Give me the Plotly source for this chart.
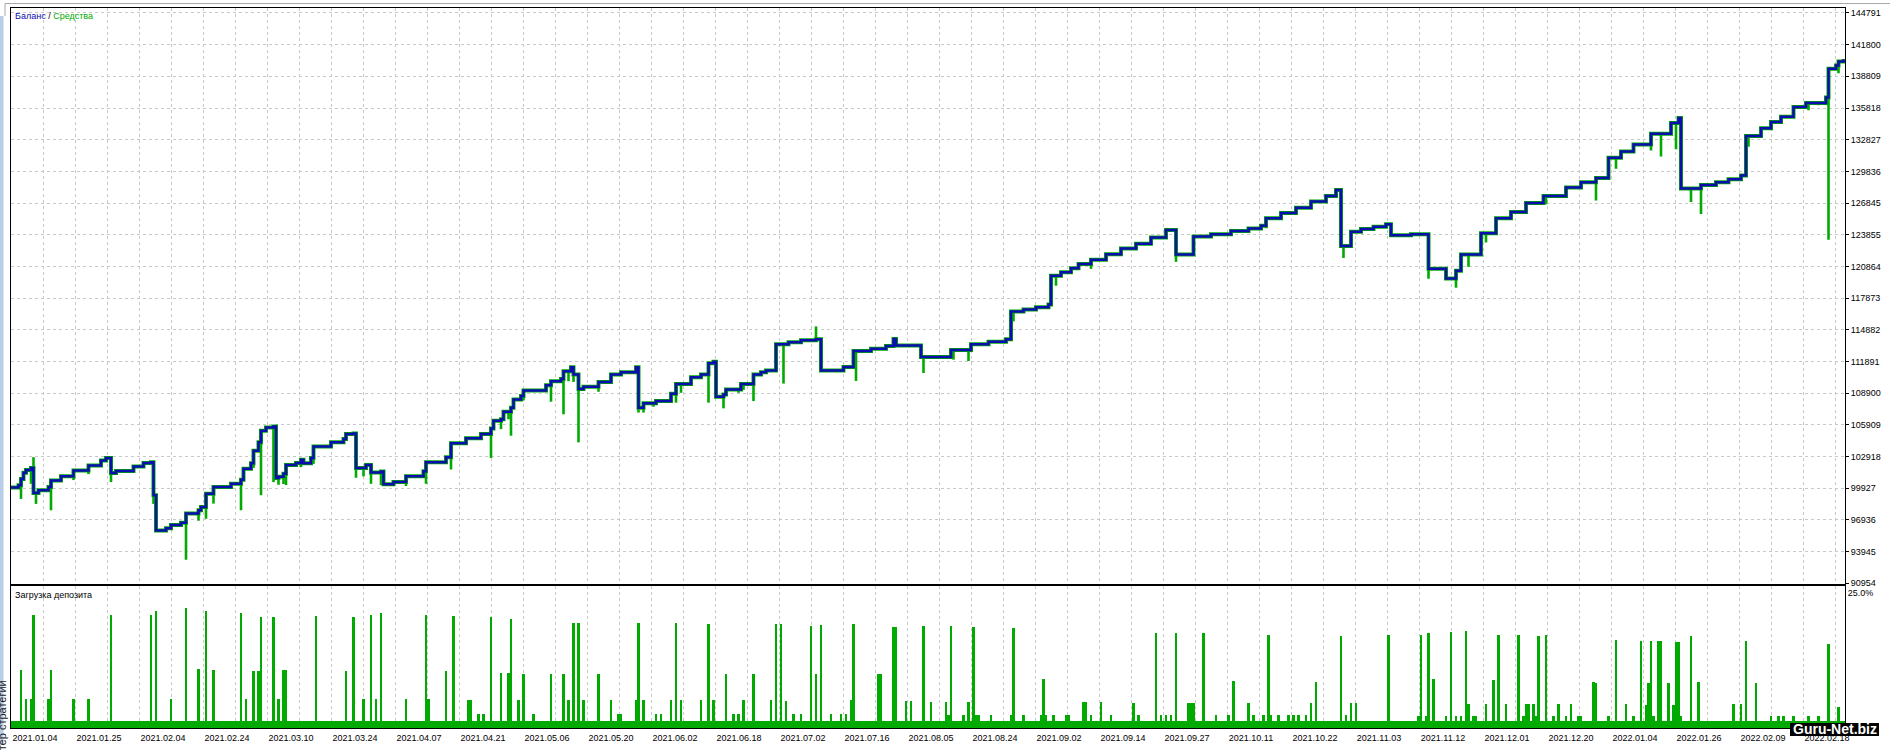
import plotly.graph_objects as go

# ---------------- data ----------------
N_TRADES = 734

# balance after trade number (step points)
bal_t = [0, 3, 4, 5, 6, 8, 9, 11, 15, 16, 20, 25, 31, 36, 38, 40, 42, 49, 53, 56, 57, 58, 62, 64, 68, 70,
         75, 76, 78, 81, 88, 92, 93, 96, 97, 99, 100, 102, 105, 106, 107, 109, 110, 114, 116, 117, 120, 121,
         128, 133, 134, 137, 138, 142, 144, 148, 149, 153, 158, 165, 166, 174, 176, 182, 188, 192, 193, 196,
         197, 200, 201, 204, 205, 214, 216, 220, 221, 224, 225, 227, 229, 235, 240, 244, 250, 251, 253, 258,
         264, 266, 272, 276, 279, 281, 282, 285, 286, 292, 297, 300, 302, 306, 311, 316, 322, 324, 333, 337,
         344, 350, 353, 354, 364, 376, 384, 391, 398, 400, 405, 410, 415, 416, 420, 424, 427, 432, 438, 444,
         450, 456, 462, 466, 473, 480, 488, 495, 500, 502, 508, 514, 520, 526, 530, 532, 536, 540, 545, 550,
         552, 560, 567, 574, 578, 580, 588, 594, 600, 606, 613, 622, 628, 634, 639, 644, 649, 656, 664, 667,
         668, 676, 682, 687, 692, 694, 700, 704, 708, 713, 718, 726, 727, 730, 731, 733]
bal_v = [100000, 100200, 100800, 101380, 101650, 101840, 99480, 99730, 100040, 100660, 101040, 101600, 102070,
         102540, 102780, 101350, 101540, 101970, 102310, 102380, 99250, 95920, 96140, 96450, 96670, 97540,
         97850, 98160, 99410, 100040, 100350, 100720, 101750, 102280, 103470, 104250, 105340, 105650, 105750,
         100880, 101000, 101280, 102120, 102310, 102600, 102280, 102780, 103850, 104250, 104560, 105030, 105090,
         101840, 102120, 101410, 101500, 100290, 100500, 101040, 101530, 102380, 102840, 104160, 104630, 105030,
         105560, 106280, 106430, 107150, 107530, 108300, 108620, 109150, 109650, 110030, 110240, 110960, 111340,
         110650, 109300, 109500, 109960, 110650, 110870, 111340, 107530, 107940, 108160, 108840, 109760, 110400,
         110650, 111710, 111870, 108560, 108780, 109250, 109750, 110650, 110870, 111040, 113520, 113700, 113890,
         113990, 111040, 111370, 112870, 113100, 113340, 114000, 113400, 112300, 112960, 113520, 113750, 113990,
         116600, 116800, 117000, 117260, 119980, 120300, 120700, 121100, 121500, 122000, 122550, 123000, 123600,
         124290, 121990, 123680, 123900, 124200, 124450, 124700, 125410, 125900, 126400, 127000, 127500, 128080,
         122790, 124130, 124400, 124600, 124850, 123800, 123900, 120640, 119730, 120450, 121990, 124000, 125410,
         126000, 126840, 127520, 128310, 128800, 129210, 131120, 131700, 132380, 133390, 134400, 134870, 128220,
         128540, 128800, 129100, 129440, 133180, 133900, 134500, 134990, 135920, 136300, 136800, 139520, 139830,
         140200, 140420]

# equity excursions (floating result) at trade numbers
eq_t = [4, 8, 9, 10, 16, 25, 31, 40, 57, 70, 75, 78, 81, 92, 97, 100, 105, 107, 109, 110, 116, 121, 138, 141,
        144, 148, 158, 166, 176, 192, 196, 199, 200, 205, 216, 221, 223, 225, 227, 235, 251, 253, 257, 266, 268,
        279, 285, 291, 293, 297, 309, 322, 338, 365, 377, 383, 401, 418, 432, 466, 473, 502, 533, 567, 578, 583,
        590, 614, 634, 642, 656, 660, 666, 672, 676, 695, 719, 723, 727, 731]
eq_v = [98910, 100340, 102850, 98440, 97850, 100690, 101250, 100500, 98440, 93170, 96850, 97040, 98470, 97850,
        101840, 99260, 100500, 100250, 100320, 100220, 101910, 102220, 100910, 101040, 100340, 100220, 100130,
        100340, 101690, 102780, 105500, 106430, 104880, 108210, 108090, 106900, 110030, 109960, 104250, 109030,
        107060, 107060, 107620, 108000, 108930, 108000, 107460, 108930, 109210, 108150, 109800, 115200, 110050,
        110800, 112060, 111930, 115670, 119040, 120630, 121290, 122130, 124470, 121660, 119700, 118850, 120820,
        123110, 126720, 127090, 130090, 131800, 131240, 131920, 126950, 125820, 132150, 135610, 136080, 123380,
        139110]

# deposit load, % (trades above the usual ~1.3 % level)
BASE_LOAD = 1.3
load_t = [4, 6, 8, 9, 15, 16, 25, 31, 40, 56, 58, 64, 70, 75, 78, 81, 92, 94, 97, 99, 100, 105, 107, 109, 110,
          122, 134, 137, 141, 144, 146, 148, 158, 166, 167, 174, 177, 183, 184, 187, 189, 192, 196, 199, 200, 203,
          205, 209, 216, 221, 223, 225, 227, 229, 235, 240, 243, 244, 250, 251, 253, 258, 260, 264, 266, 268, 276,
          279, 281, 286, 289, 291, 293, 297, 304, 306, 308, 310, 313, 316, 320, 322, 324, 328, 332, 334, 336, 337,
          347, 348, 353, 354, 358, 360, 365, 368, 374, 375, 376, 381, 383, 385, 386, 387, 392, 400, 401, 405, 412,
          413, 414, 417, 422, 423, 429, 430, 432, 436, 440, 449, 451, 458, 460, 462, 464, 466, 471, 472, 473, 477,
          482, 487, 489, 495, 497, 501, 503, 504, 507, 511, 513, 515, 518, 520, 522, 532, 534, 536, 538, 551, 563,
          564, 566, 567, 569, 574, 576, 578, 580, 582, 583, 585, 586, 590, 593, 595, 598, 603, 605, 606, 607, 609,
          610, 611, 614, 617, 619, 622, 624, 627, 628, 633, 634, 639, 642, 646, 649, 652, 654, 655, 656, 657, 659,
          660, 663, 665, 666, 667, 668, 672, 675, 689, 692, 694, 698, 704, 707, 709, 713, 719, 723, 727, 731]
load_v = [10.8, 5.3, 5.3, 21.0, 5.3, 10.8, 5.3, 5.3, 21.0, 21.0, 21.7, 5.4, 22.3, 10.9, 21.7, 10.8, 21.3, 5.3,
          10.6, 10.6, 20.6, 20.5, 5.3, 10.7, 10.7, 20.8, 10.5, 20.6, 5.3, 21.0, 5.3, 21.3, 5.3, 21.0, 5.3, 10.6,
          20.8, 5.2, 5.2, 2.5, 2.5, 20.5, 10.1, 10.1, 20.1, 5.1, 10.0, 2.5, 10.0, 10.0, 5.1, 19.4, 19.4, 5.1, 10.0,
          5.1, 2.5, 2.5, 5.1, 19.4, 5.1, 2.5, 2.5, 5.1, 19.5, 5.1, 5.1, 19.3, 5.1, 10.0, 2.5, 2.5, 5.1, 10.0, 5.1,
          19.3, 19.3, 5.0, 2.5, 2.5, 18.9, 9.9, 19.0, 2.5, 2.5, 2.5, 5.1, 19.3, 9.9, 9.9, 18.7, 18.7, 5.0, 5.0,
          18.9, 4.8, 4.8, 2.3, 18.8, 2.3, 4.8, 18.7, 2.3, 2.3, 2.3, 2.3, 18.6, 2.3, 2.3, 9.0, 2.3, 2.3, 2.3, 2.3,
          4.7, 4.7, 2.3, 4.7, 2.3, 4.6, 2.3, 17.5, 2.3, 2.3, 2.3, 17.5, 4.6, 4.6, 4.6, 17.5, 2.3, 2.3, 8.6, 4.6,
          2.3, 2.3, 17.2, 2.3, 2.3, 2.3, 2.3, 2.3, 2.3, 4.6, 8.5, 17.0, 2.3, 4.6, 4.6, 17.3, 2.2, 17.3, 2.2, 17.5,
          9.0, 2.2, 17.8, 2.2, 2.2, 18.0, 4.4, 2.2, 2.2, 4.4, 8.9, 17.3, 4.4, 17.2, 2.2, 4.4, 4.4, 4.4, 2.2, 17.1,
          17.2, 2.2, 4.4, 2.2, 4.4, 2.2, 2.2, 8.5, 8.4, 2.2, 16.3, 4.4, 2.2, 16.1, 4.3, 8.3, 16.1, 2.2, 16.1, 16.1,
          8.3, 4.3, 16.0, 16.0, 2.2, 17.1, 8.5, 4.4, 4.4, 16.1, 8.3, 2.2, 2.2, 2.2, 2.2, 2.2, 2.2, 15.6, 3.9]

date_labels = ["2021.01.04", "2021.01.25", "2021.02.04", "2021.02.24", "2021.03.10", "2021.03.24",
               "2021.04.07", "2021.04.21", "2021.05.06", "2021.05.20", "2021.06.02", "2021.06.18",
               "2021.07.02", "2021.07.16", "2021.08.05", "2021.08.24", "2021.09.02", "2021.09.14",
               "2021.09.27", "2021.10.11", "2021.10.22", "2021.11.03", "2021.11.12", "2021.12.01",
               "2021.12.20", "2022.01.04", "2022.01.26", "2022.02.09", "2022.02.18"]

y_ticks = [90954, 93945, 96936, 99927, 102918, 105909, 108900, 111891, 114882, 117873, 120864,
           123855, 126845, 129836, 132827, 135818, 138809, 141800, 144791]

# ---------------- styling / layout ----------------
BLUE = "#0c0cb0"
GREEN = "#00aa00"
GRID = "#c8c8c8"
FONT = "Liberation Sans, Arial, sans-serif"

W, H = 1890, 750
PL, PR, PT, PB = 11, 1845, 7, 733          # plot area edges in pixels
MAIN_BOTTOM, SUB_TOP = 588, 590
X_MAX = N_TRADES - 0.4
GRID_STEP = 12.8                            # trades between vertical grid lines


def paper_x(px):
    return (px - PL) / (PR - PL)


def paper_y(py):
    return (PB - py) / (PB - PT)


def balance_at(t):
    v = bal_v[0]
    for bt, bv in zip(bal_t, bal_v):
        if bt <= t:
            v = bv
        else:
            break
    return v


load = [BASE_LOAD] * N_TRADES
for t, v in zip(load_t, load_v):
    load[t] = v

dip_x, dip_y = [], []
for t, v in zip(eq_t, eq_v):
    dip_x += [t, t, None]
    dip_y += [balance_at(t), v, None]

grid_vals = [k * GRID_STEP for k in range(int(X_MAX / GRID_STEP) + 1)]
grid_text = [date_labels[k // 2] if k % 2 == 0 and k // 2 < len(date_labels) else "" for k in range(len(grid_vals))]

fig = go.Figure()
fig.add_trace(go.Scatter(x=bal_t, y=bal_v, mode="lines", line=dict(color=GREEN, width=4.0, shape="hv"),
                         hoverinfo="skip", xaxis="x", yaxis="y"))
fig.add_trace(go.Scatter(x=dip_x, y=dip_y, mode="lines", line=dict(color=GREEN, width=2.6),
                         hoverinfo="skip", xaxis="x", yaxis="y"))
fig.add_trace(go.Scatter(x=bal_t, y=bal_v, mode="lines", line=dict(color=BLUE, width=2.5, shape="hv"),
                         xaxis="x", yaxis="y"))
fig.add_trace(go.Bar(x=list(range(N_TRADES)), y=load, marker=dict(color=GREEN, line=dict(width=0)),
                     width=0.82, xaxis="x2", yaxis="y2"))

main_dom0 = paper_y(MAIN_BOTTOM)
sub_dom1 = paper_y(SUB_TOP)
px_per_val = (587 - 12) / (y_ticks[-1] - y_ticks[0])

axis_common = dict(showline=True, mirror=True, linecolor="black", linewidth=1, zeroline=False)
fig.update_layout(
    width=W, height=H,
    margin=dict(l=PL, r=W - PR, t=PT, b=H - PB, pad=0),
    paper_bgcolor="white", plot_bgcolor="white",
    showlegend=False, bargap=0,
    font=dict(family=FONT, size=9, color="black"),
    xaxis=dict(domain=[0, 1], anchor="y", range=[0, X_MAX], tickmode="array", tickvals=grid_vals,
               showticklabels=False, showgrid=True, gridcolor=GRID, griddash="3px,3px", gridwidth=1,
               **axis_common),
    yaxis=dict(domain=[main_dom0, 1], anchor="x", side="right",
               range=[y_ticks[0] - 1 / px_per_val, y_ticks[-1] + 5 / px_per_val],
               tickmode="array", tickvals=y_ticks, ticktext=[str(v) for v in y_ticks],
               ticks="outside", ticklen=3, tickcolor="black",
               showgrid=True, gridcolor=GRID, griddash="3px,3px", gridwidth=1,
               tickfont=dict(size=9, color="black", family=FONT), **axis_common),
    xaxis2=dict(domain=[0, 1], anchor="y2", range=[0, X_MAX], tickmode="array", tickvals=grid_vals,
                ticktext=grid_text, ticklabelshift=24, ticklabelstandoff=1, tickangle=0,
                tickfont=dict(size=9, color="black", family=FONT),
                showgrid=True, gridcolor=GRID, griddash="3px,3px", gridwidth=1, **axis_common),
    yaxis2=dict(domain=[0, sub_dom1], anchor="x2", side="right", range=[0, 26.3],
                tickmode="array", tickvals=[25], ticktext=["25.0%"], showgrid=False,
                tickfont=dict(size=9, color="black", family=FONT), **axis_common),
)

shapes = [
    dict(type="rect", xref="paper", yref="paper", x0=paper_x(0), x1=paper_x(3.5), y0=paper_y(750),
         y1=paper_y(15), fillcolor="#b7cde8", line=dict(width=0), layer="below"),
    dict(type="line", xref="paper", yref="paper", x0=paper_x(5), x1=paper_x(W), y0=paper_y(2.5),
         y1=paper_y(2.5), line=dict(color="#a8a8a8", width=1)),
    dict(type="line", xref="paper", yref="paper", x0=paper_x(5), x1=paper_x(5), y0=paper_y(2.5),
         y1=paper_y(15), line=dict(color="#a8a8a8", width=1)),
    dict(type="rect", xref="paper", yref="paper", x0=paper_x(1790), x1=paper_x(1879), y0=paper_y(741),
         y1=paper_y(728), fillcolor="black", line=dict(width=0), layer="above"),
]
fig.update_layout(shapes=shapes)

annotations = [
    dict(xref="paper", yref="paper", x=paper_x(13), y=paper_y(15.5), xanchor="left", yanchor="middle",
         showarrow=False,
         text=f'<span style="color:{BLUE}">Баланс</span> / <span style="color:{GREEN}">Средства</span>',
         font=dict(size=9, family=FONT, color="black")),
    dict(xref="paper", yref="paper", x=paper_x(13), y=paper_y(599), xanchor="left", yanchor="middle",
         showarrow=False, text="Загрузка депозита", font=dict(size=9, family=FONT, color="black")),
    dict(xref="paper", yref="paper", x=paper_x(2), y=paper_y(729), xanchor="center", yanchor="middle",
         showarrow=False, text="Тестер стратегии", textangle=-90,
         font=dict(size=11, family=FONT, color="#1a1a1a")),
    dict(xref="paper", yref="paper", x=paper_x(1834.5), y=paper_y(734.5), xanchor="center", yanchor="middle",
         showarrow=False, text="<b>Guru-Net.biz</b>", font=dict(size=14, family=FONT, color="white")),
]
fig.update_layout(annotations=annotations)

fig.write_html("out.html", config={"displayModeBar": False},
               post_script="document.body.style.margin='0';document.body.style.overflow='hidden';")
